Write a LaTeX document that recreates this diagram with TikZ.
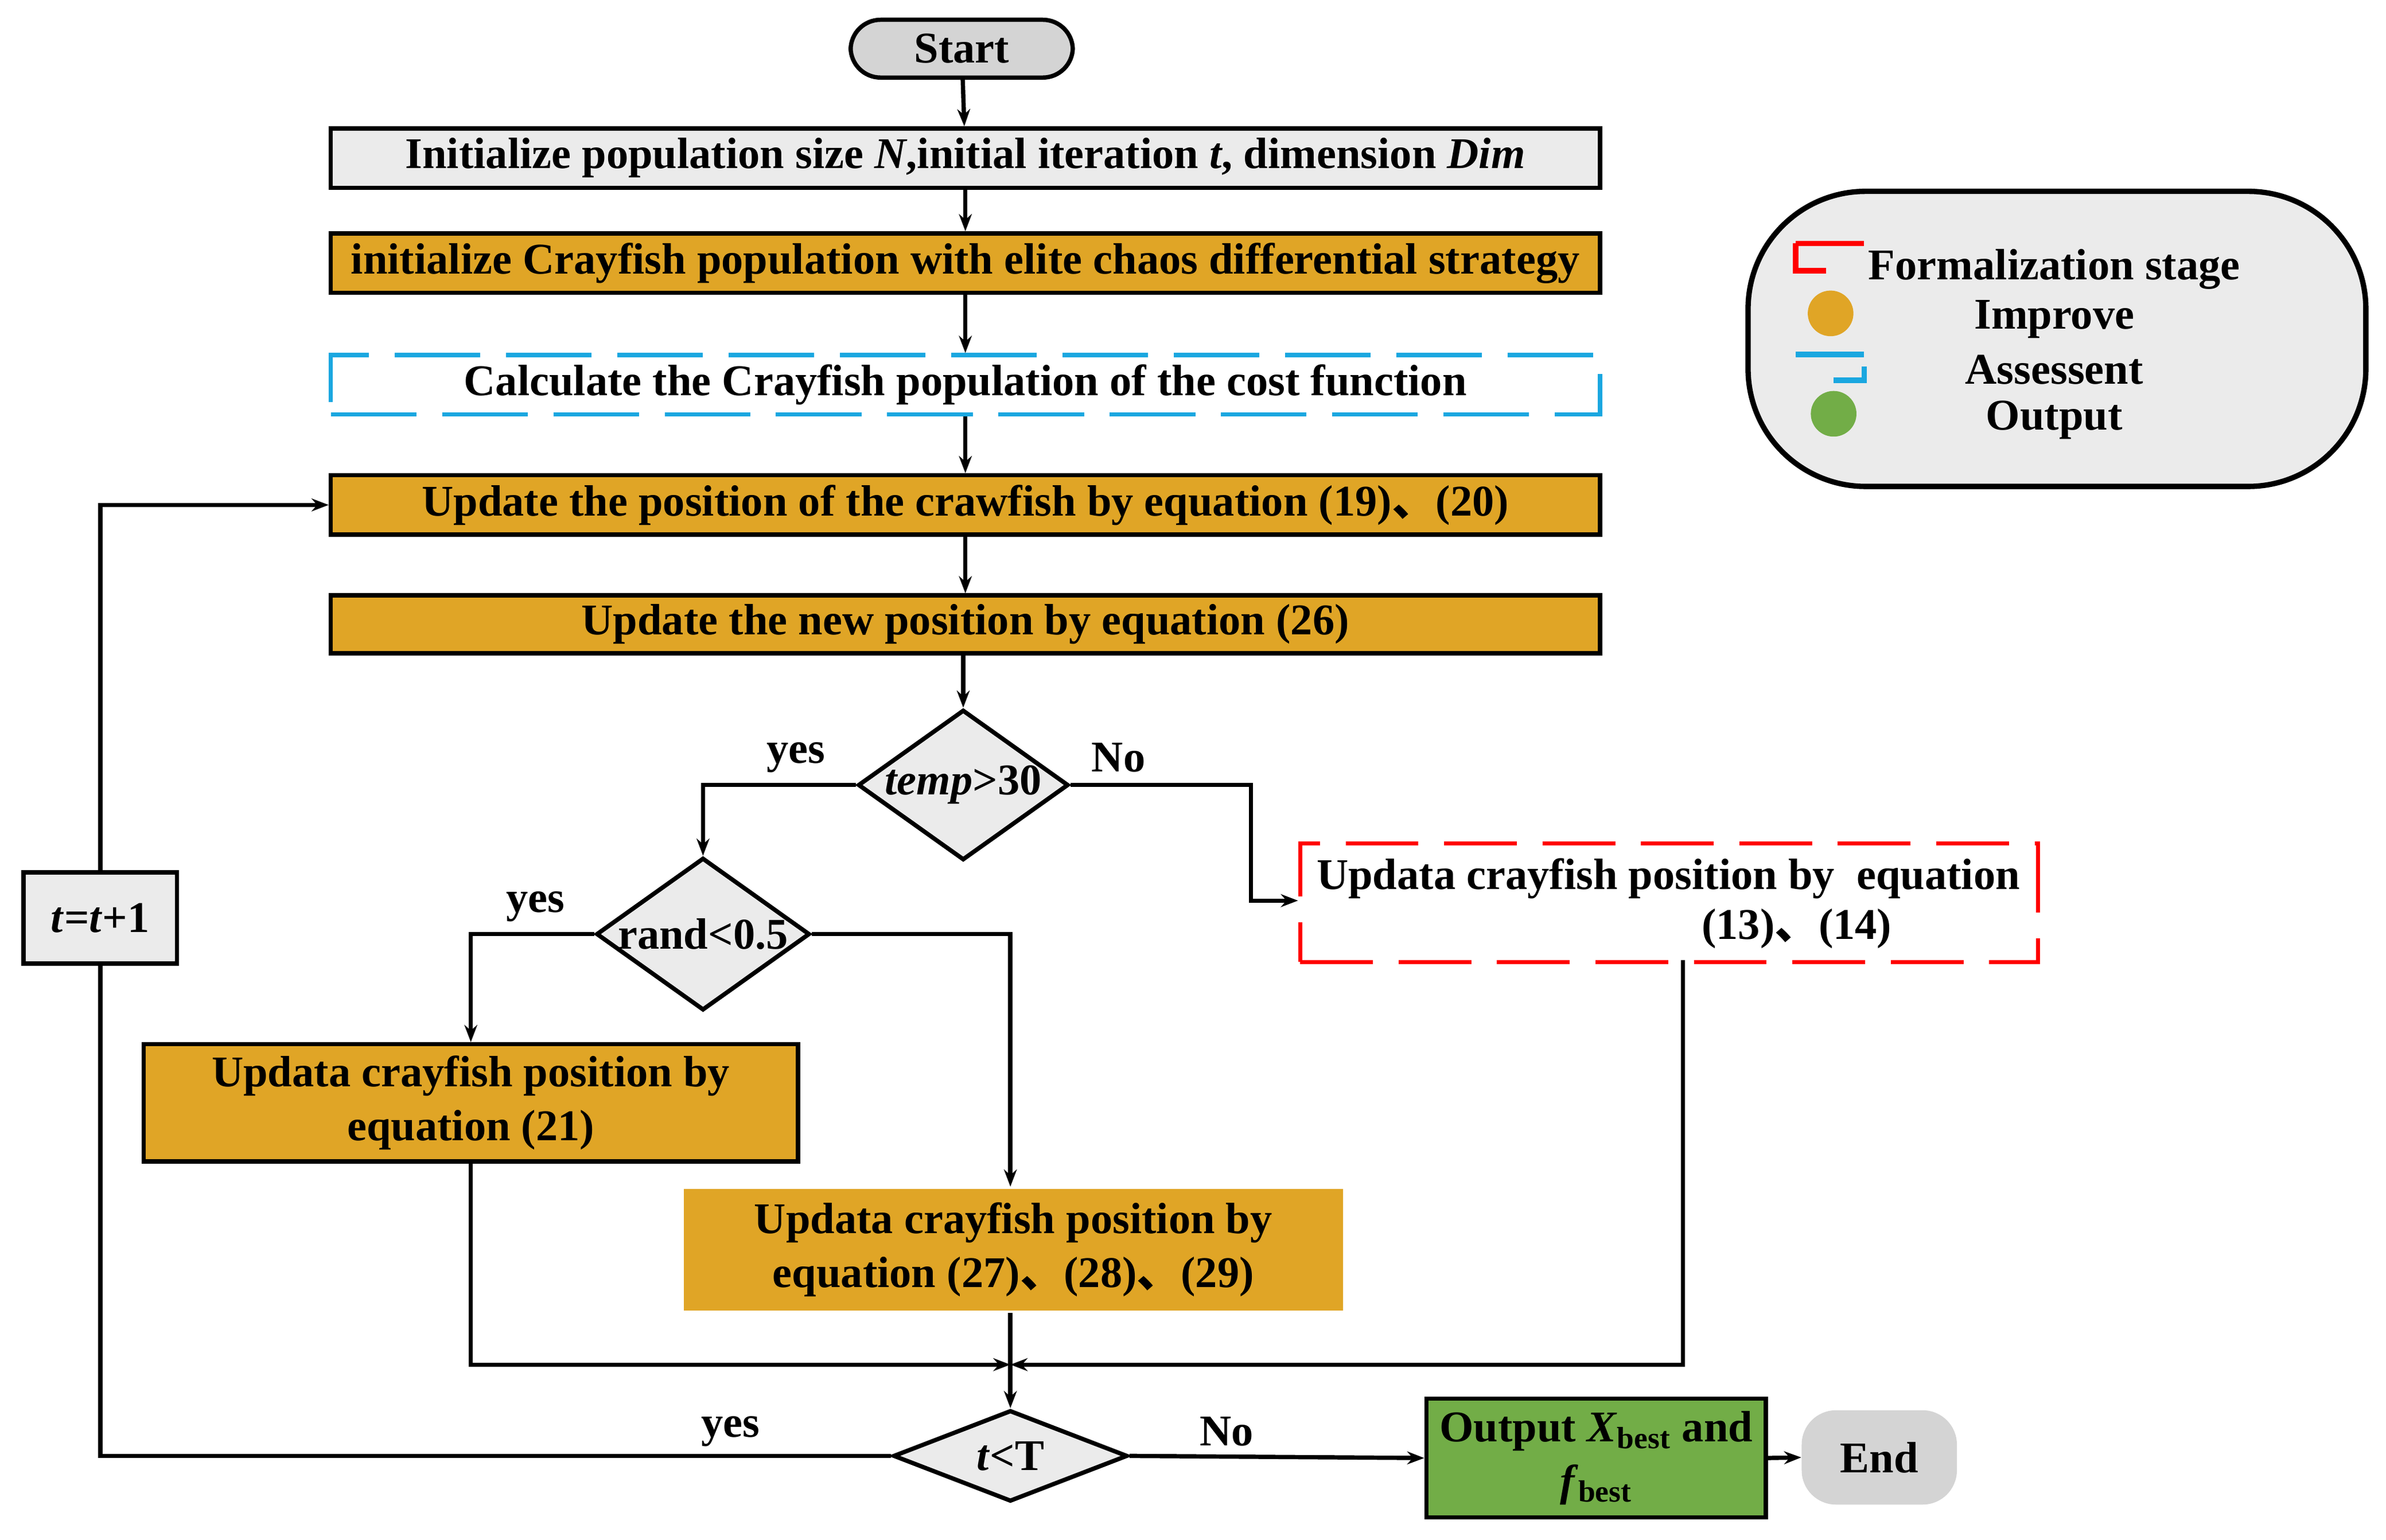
\documentclass[tikz,border=0pt]{standalone}
\usepackage{fontspec}
\setmainfont{Liberation Serif}
\newfontfamily\cjk{Noto Sans CJK SC}
\newcommand{\dn}{{\cjk 、}}
\usetikzlibrary{shapes.geometric,arrows.meta}
\definecolor{gold}{HTML}{E0A526}
\definecolor{lgray}{HTML}{EBEBEB}
\definecolor{cgray}{HTML}{D4D4D4}
\definecolor{ogreen}{HTML}{72AD47}
\definecolor{cyanb}{HTML}{1AA7E0}
\begin{document}
\begin{tikzpicture}[x=0.025cm,y=-0.025cm,font=\bfseries\fontsize{20.5}{25}\selectfont,
 box/.style={draw,line width=2pt,inner sep=0pt,anchor=north west,align=center},
 dia/.style={draw,line width=2pt,diamond,fill=lgray,inner sep=0pt,aspect=1.4},
 ar/.style={line width=2pt,-{Stealth[length=8pt]}},
 ln/.style={line width=2pt}]
\useasboundingbox (0,0) rectangle (1568,1012);
\node[box,rounded corners=14pt,fill=cgray,minimum width=146*0.025cm,minimum height=38*0.025cm,anchor=center] (st) at (632,32) {Start};
\node[box,fill=lgray,minimum width=834*0.025cm,minimum height=39*0.025cm] (b1) at (216,83) {Initialize population size \textit{N},initial iteration \textit{t}, dimension \textit{Dim}};
\node[box,fill=gold,minimum width=834*0.025cm,minimum height=39*0.025cm] (b2) at (216,152) {initialize Crayfish population with elite chaos differential strategy};
\node[box,draw=cyanb,dash pattern=on 40pt off 12pt,minimum width=834*0.025cm,minimum height=39*0.025cm] (b3) at (216,232) {Calculate the Crayfish population of the cost function};
\node[box,fill=gold,minimum width=834*0.025cm,minimum height=39*0.025cm] (b4) at (216,311) {Update the position of the crawfish by equation (19)\dn(20)};
\node[box,fill=gold,minimum width=834*0.025cm,minimum height=38*0.025cm] (b5) at (216,390) {Update the new position by equation (26)};
\node[dia,minimum width=128*0.025cm,minimum height=94*0.025cm] (d1) at (633,516) {\textit{temp}>30};
\node[dia,minimum width=140*0.025cm,minimum height=94*0.025cm] (d2) at (462,614) {rand<0.5};
\node[box,draw=red,dash pattern=on 34pt off 12pt,minimum width=485*0.025cm,minimum height=78*0.025cm] (r) at (853,553) {};
\node[anchor=north west,inner sep=0pt] at (865,564) {Updata crayfish position by\ \ equation};
\node[anchor=north west,inner sep=0pt] at (1118,597) {(13)\dn(14)};
\node[box,fill=gold,minimum width=430*0.025cm,minimum height=77*0.025cm] (b21) at (93,685) {Updata crayfish position by\\equation (21)};
\node[box,draw=none,fill=gold,minimum width=433*0.025cm,minimum height=80*0.025cm] (b27) at (448,780) {Updata crayfish position by\\equation (27)\dn(28)\dn(29)};
\node[dia,minimum width=154*0.025cm,minimum height=60*0.025cm,aspect=2.6] (d3) at (664,957) {\textit{t}<T};
\node[box,fill=ogreen,minimum width=223*0.025cm,minimum height=78*0.025cm] (out) at (936,918) {Output \textit{X}\textsubscript{best} and\\\textit{f}\textsubscript{best}};
\node[draw=none,rounded corners=16pt,fill=cgray,minimum width=102*0.025cm,minimum height=62*0.025cm] (end) at (1235,958) {End};
\node[box,fill=lgray,minimum width=101*0.025cm,minimum height=60*0.025cm] (tt) at (14,572) {\textit{t}=\textit{t}+1};
% legend
\node[box,rounded corners=55pt,line width=2.5pt,fill=lgray,minimum width=406*0.025cm,minimum height=194*0.025cm] (lg) at (1147,124) {};
\draw[red,line width=2.5pt] (1180,160)--(1225,160) (1180,160)--(1180,178)--(1200,178);
\draw[cyanb,line width=2.5pt] (1180,233)--(1225,233) (1205,250)--(1225,250)--(1225,241);
\fill[gold] (1203,206) circle (15);
\fill[ogreen] (1205,272) circle (15);
\node (l1) at (1350,177) {Formalization stage};
\node (l2) at (1350,210) {Improve};
\node (l3) at (1350,243) {Assessent};
\node (l4) at (1350,276) {Output};
% connectors
\draw[ar] (st)--(b1); \draw[ar] (b1)--(b2); \draw[ar] (b2)--(b3); \draw[ar] (b3)--(b4); \draw[ar] (b4)--(b5);
\draw[ar] (b5.south-|d1.north)--(d1.north);
\draw[ar] (d1.west)-|(d2.north);
\draw[ar] (d1.east)-|(822,592)--(r.west|-0,592);
\draw[ar] (d2.west)-|(b21.north);
\draw[ar] (d2.east)-|(d3.north|-b27.north);
\draw[ar] (b21.south)|-(d3.north|-0,897);
\draw[ar] (1106,631)|-(d3.north|-0,897);
\draw[ar] (d3.north|-b27.south)--(d3.north);
\draw[ln] (d3.west)-|(tt.south);
\draw[ar] (tt.north)|-(b4.west);
\draw[ar] (d3.east)--(out.west);
\draw[ar] (out.east)--(end.west);
\node at (523,498) {yes}; \node at (735,498) {No};
\node at (352,596) {yes}; \node at (480,941) {yes}; \node at (806,941) {No};
\end{tikzpicture}
\end{document}
